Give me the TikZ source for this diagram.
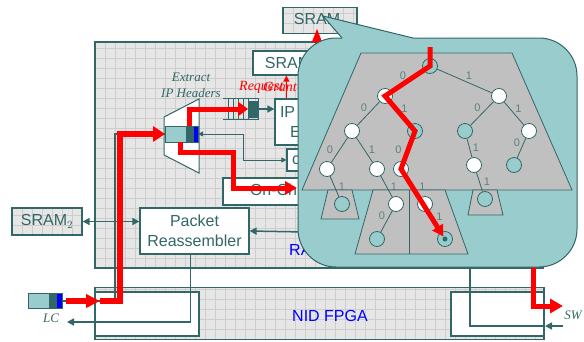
\documentclass[tikz,border=0pt]{standalone}
\usepackage{fontspec}
\setmainfont{Liberation Sans}
\newfontfamily\notefont{Liberation Serif}
\usetikzlibrary{arrows.meta,positioning}

\definecolor{tealdark}{HTML}{336666}
\definecolor{tealfill}{HTML}{99CCCC}
\definecolor{boxgray}{HTML}{E6E6E6}
\definecolor{gridgray}{HTML}{CDCDCD}
\definecolor{treegray}{HTML}{C0C0C0}
\definecolor{bitteal}{HTML}{5F8080}

\tikzset{
  unit/.style={draw=tealdark, line width=1.2pt, fill=white, text=tealdark,
    font=\fontsize{16}{20}\selectfont, inner sep=0pt, align=center},
  gridded/.style={fill=boxgray, path picture={
    \foreach \k in {0,...,60}{
      \draw[gridgray, line width=0.6pt] ([xshift=\k*10pt]path picture bounding box.south west) -- ([xshift=\k*10pt]path picture bounding box.north west);
      \draw[gridgray, line width=0.6pt] ([yshift=\k*10pt]path picture bounding box.south west) -- ([yshift=\k*10pt]path picture bounding box.south east);
    }}},
  wire/.style={draw=tealdark, line width=1.5pt, arrows={-Triangle[length=7pt,width=7pt]}},
  thinwire/.style={draw=tealdark, line width=0.8pt, arrows={Triangle[length=5pt,width=5pt]-Triangle[length=5pt,width=5pt]}},
  redflow/.style={red, line width=5.5pt, arrows={-Triangle[length=14pt,width=15pt]}},
  redtree/.style={red, line width=5pt, arrows={-Triangle[length=11pt,width=12pt]}},
  pktpart/.style={draw=tealdark, line width=0.8pt, inner sep=0pt, outer sep=0pt, minimum height=16pt},
  note/.style={text=tealdark, font=\notefont\itshape\fontsize{13}{16}\selectfont, align=center, inner sep=0pt},
  vertex/.style={circle, draw=tealdark, line width=0.8pt, fill=white, minimum size=15pt, inner sep=0pt},
  leafnode/.style={vertex, fill=tealfill},
  twig/.style={draw=tealdark, line width=0.8pt},
  bitlabel/.style={text=bitteal, font=\fontsize{11}{11}\selectfont, inner sep=1pt},
  subtree/.style={fill=treegray, draw=tealdark, line width=0.8pt}
}

\begin{document}
\begin{tikzpicture}[x=1pt, y=-1pt]
  \useasboundingbox (0,0) rectangle (584,341);

  % RAD board and NID FPGA
  \node[unit, gridded, minimum width=448pt, minimum height=226pt] (rad) at (319,155) {};
  \node[unit, gridded, minimum width=449pt, minimum height=52pt] (nid) at (319.5,313.5) {};
  \node[unit, minimum width=104pt, minimum height=44pt] (nidleft) at (147,314) {};
  \node[unit, minimum width=93pt, minimum height=44pt] (nidright) at (497.5,314) {};
  \node[text=blue, font=\fontsize{16}{20}\selectfont] (nidname) at (330,316) {NID FPGA};
  \node[text=blue, font=\fontsize{16}{20}\selectfont, anchor=west, inner sep=0pt] (radname) at (289,250) {RAD};

  % blocks
  \node[unit, gridded, minimum width=70pt, minimum height=27pt] (sram2) at (47,221.5) {SRAM$_2$};
  \node[unit, minimum width=109pt, minimum height=46pt] (reasm) at (194.5,231) {Packet\\Reassembler};
  \node[unit, minimum width=70pt, minimum height=24pt] (sramin) at (288,63) {SRAM};
  \node[unit, minimum width=55pt, minimum height=46pt, text width=45pt, align=left] (ipbox) at (302.5,122) {IP\\\hspace*{10pt}E};
  \node[unit, minimum width=43pt, minimum height=22pt, text width=33pt, align=left] (cbox) at (308.5,160) {c};
  \node[unit, minimum width=107pt, minimum height=27pt, text width=53pt, align=left] (onchip) at (276.5,191.5) {\mbox{On-Chip}};

  % header extractor
  \draw[fill=white, draw=tealdark, line width=1pt] (164,117) -- (199,99) -- (199,173) -- (164,155) -- cycle;
  \node[pktpart, fill=tealfill, minimum width=21pt] (hdrbody) at (175.5,134) {};
  \node[pktpart, fill=tealdark, minimum width=7pt, right=0pt of hdrbody] (hdrtag) {};
  \node[pktpart, fill=blue, minimum width=5pt, right=0pt of hdrtag] (hdrflag) {};
  \node[note] (extname) at (191,85) {Extract\\IP Headers};

  % request queue
  \node[minimum width=35pt, minimum height=20pt, inner sep=0pt] (queue) at (240.5,109) {};
  \draw[tealdark, line width=1pt] (queue.north west) -- (queue.north east) -- (queue.south east) -- (queue.south west);
  \foreach \x in {228,233,238,243,248}
    \draw[tealdark, line width=0.8pt] (\x,99) -- (\x,119);
  \node[pktpart, fill=tealdark, minimum width=9pt] (qhead) at (252.5,109) {};

  % line card packet
  \node[pktpart, fill=tealfill, minimum width=21pt, minimum height=15pt] (lcbody) at (38.5,301) {};
  \node[pktpart, fill=tealdark, minimum width=7pt, minimum height=15pt, right=0pt of lcbody] (lctag) {};
  \node[pktpart, fill=blue, minimum width=6pt, minimum height=15pt, right=0pt of lctag] (lcflag) {};
  \node[note] (lcname) at (51,318) {LC};
  \node[note] (swname) at (573,315) {SW};

  \coordinate (tealup) at (115,0);
  \coordinate (lcin) at (100,301);
  \coordinate (upturn) at (120,301);
  \coordinate (lcout) at (67,322);
  \coordinate (fromtree) at (305,232);
  \coordinate (treeout) at (470,250);
  \coordinate (swin) at (563,326);
  \coordinate (swturn) at (545,326);
  \coordinate (treeexit) at (533,250);
  \coordinate (swout) at (563,306);
  \coordinate (jog) at (233,152);
  \coordinate (memin) at (297,188);

  % teal connectors
  \draw[wire, arrows={Triangle[length=7pt,width=7pt]-Triangle[length=7pt,width=7pt]}] (sram2.east) -- (sram2.east -| reasm.west);
  \draw[wire] (fromtree) -- (reasm.east);
  \draw[wire] ([xshift=-4pt]reasm.south) |- (lcout);
  \draw[wire] (swin) -- (swturn);
  \draw[wire, arrows=-] (swturn) -| (treeout);
  \draw[wire, arrows=-] (lcflag.east) -- (lcflag.east -| tealup) |- (hdrbody.west);
  \draw[wire] (queue.east) -- (queue.east -| ipbox.west);
  \draw[thinwire] (hdrflag.east) -- ++(45,0) |- (cbox.west);

  % red packet flow
  \draw[redflow, arrows={-Triangle[length=14pt,width=13pt]}] ([xshift=4pt]lcflag.east) -- (lcin);
  \draw[redflow, arrows={-Triangle[length=12pt,width=15pt]}] (lcin) -- (upturn) |- (hdrbody.west);
  \draw[redflow, line width=5pt, arrows={-Triangle[length=10pt,width=14pt]}] (hdrtag.north) |- (qhead.west);
  \draw[redflow, line width=5pt, arrows={-Triangle[length=12pt,width=13pt]}] ([xshift=-6pt]hdrbody.south east) |- (jog) |- (memin);
  \draw[redflow, line width=5pt, arrows={-Triangle[length=13pt,width=14pt]}] (treeexit) |- (swout);
  \draw[red, line width=1.5pt, -{Triangle[length=6pt,width=6pt]}] ([xshift=12pt]ipbox.north west) -- ([xshift=12pt]ipbox.north west |- sramin.south);
  \node[text=red, font=\notefont\itshape\fontsize{14}{16}\selectfont, anchor=west, inner sep=0pt] (reqname) at (239,87) {Request};
  \node[text=red, font=\notefont\itshape\fontsize{14}{16}\selectfont, anchor=west, inner sep=0pt] (grantname) at (263,87) {Grant};

  % SRAM 1
  \node[unit, gridded, minimum width=74pt, minimum height=26pt] (sram1) at (320,20.5) {SRAM$_1$};
  \draw[red, line width=4pt, -{Triangle[length=14pt,width=9pt]}] (317,50) -- (317,28);

  % callout
  \draw[fill=tealfill, draw=tealdark, line width=1pt, rounded corners=38pt] (298,38) rectangle (577,267);
  \fill[tealfill] (323,16) -- (413,38) -- (413,39.6) -- (342,39.6) -- (342,38) -- cycle;
  \draw[tealdark, line width=1pt] (342,38) -- (323,16) -- (413,38);

  % trie
  \draw[subtree] (361,53) -- (512,53) -- (572,190) -- (302,190) -- cycle;
  \draw[subtree] (328,190) -- (352,190) -- (359,219) -- (321,219) -- cycle;
  \draw[subtree] (373,190) -- (445,190) -- (468,254) -- (355,254) -- cycle;
  \draw[twig] (409,190) -- (409,254);
  \draw[subtree] (473,190) -- (497,190) -- (503,215) -- (468,215) -- cycle;

  \node[leafnode] (r) at (430,66) {};
  \node[vertex] (a) at (385,96) {};
  \node[vertex] (b) at (499,96) {};
  \node[vertex] (c) at (352,131) {};
  \node[leafnode] (d) at (415,131) {};
  \node[leafnode] (e) at (465,131) {};
  \node[vertex] (f) at (529,131) {};
  \node[vertex] (g) at (327,169) {};
  \node[vertex] (h) at (377,169) {};
  \node[vertex] (i) at (401,169) {};
  \node[vertex] (j) at (474,165) {};
  \node[leafnode] (k) at (514,165) {};
  \node[leafnode] (l) at (342,204) {};
  \node[vertex] (m) at (396,204) {};
  \node[vertex] (n) at (425,204) {};
  \node[leafnode] (o) at (485,199) {};
  \node[leafnode] (p) at (377,239) {};
  \node[leafnode] (q) at (445,239) {};
  \node[circle, fill=tealdark, minimum size=5pt, inner sep=0pt] (qdot) at (q) {};

  \draw[twig] (r) -- node[bitlabel, above left] {0} (a);
  \draw[twig] (r) -- node[bitlabel, above right] {1} (b);
  \draw[twig] (a) -- node[bitlabel, above left] {0} (c);
  \draw[twig] (a) -- node[bitlabel, above right] {1} (d);
  \draw[twig] (b) -- node[bitlabel, above left] {0} (e);
  \draw[twig] (b) -- node[bitlabel, above right] {1} (f);
  \draw[twig] (c) -- node[bitlabel, left=5pt] {0} (g);
  \draw[twig] (c) -- node[bitlabel, right=3pt] {1} (h);
  \draw[twig] (d) -- node[bitlabel, left=5pt] {0} (i);
  \draw[twig] (e) -- node[bitlabel, right=2pt] {1} (j);
  \draw[twig] (f) -- node[bitlabel, above left] {0} (k);
  \draw[twig] (g) -- node[bitlabel, right=3pt] {1} (l);
  \draw[twig] (h) -- node[bitlabel, right=3pt] {1} (m);
  \draw[twig] (i) -- node[bitlabel, right=5pt] {1} (n);
  \draw[twig] (j) -- node[bitlabel, right=3pt] {1} (o);
  \draw[twig] (m) -- node[bitlabel, above left] {0} (p);
  \draw[twig] (n) -- node[bitlabel, above right] {1} (q);

  \coordinate (treein) at (430,47);
  \draw[redtree, shorten >=3pt] (treein) -- (r.center) -- (a.center) -- (d.center) -- (i.center) -- (q.center);
\end{tikzpicture}
\end{document}
